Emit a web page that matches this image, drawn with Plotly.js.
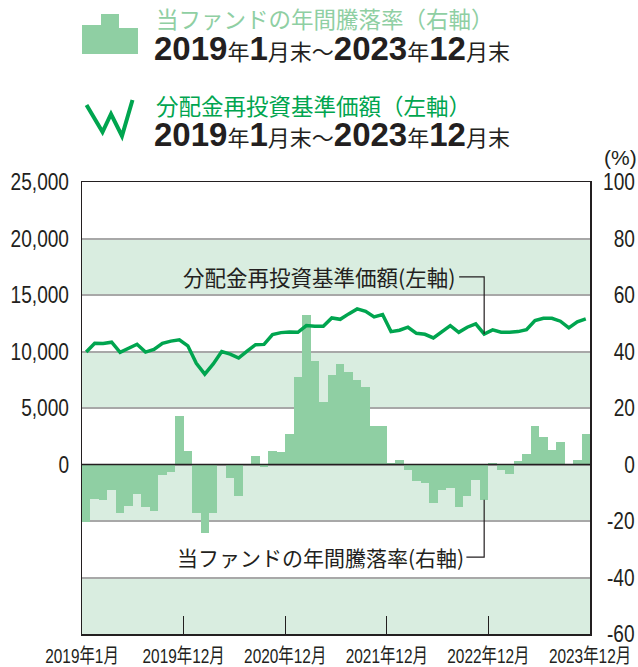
<!DOCTYPE html>
<html><head><meta charset="utf-8">
<script src="https://cdn.plot.ly/plotly-3.0.1.min.js"></script>
<style>html,body{margin:0;padding:0;background:#fff}</style>
</head><body><div id="chart" style="width:638px;height:667px"></div>
<script>
// ---- data ----
const years = [2019, 2020, 2021, 2022, 2023];
const months = [];
years.forEach(y => { for (let m = 1; m <= 12; m++) months.push(y + '-' + (m < 10 ? '0' : '') + m); });

// 年間騰落率 (%) – right axis
const annualReturn = [
  -20.4, -12.2, -12.5, -9.0, -17.3, -14.6, -10.4, -15.0, -16.3, -3.7,
  -2.6, 17.2, 4.8, -17.0, -24.3, -17.0, 0.0, -4.7, -11.1, 0.0,
  3.0, -1.0, 4.8, 4.5, 10.8, 31.0, 52.9, 36.6, 22.2, 31.6,
  35.5, 32.6, 30.0, 27.4, 13.7, 13.7, 0.6, 1.5, -2.1, -6.0,
  -6.6, -13.7, -9.0, -8.4, -15.2, -11.1, -5.4, -12.5, 0.6, -1.8,
  -3.5, 1.3, 3.8, 13.7, 9.6, 5.2, 8.0, 0.0, 1.7, 10.9
];
// 分配金再投資基準価額 (円) – left axis
const navReinvested = [
  9950, 10720, 10700, 10820, 9930, 10320, 10640, 9950, 10180, 10720,
  10920, 11030, 10500, 8950, 8000, 8900, 10000, 9770, 9420, 10040,
  10600, 10630, 11500, 11670, 11730, 11700, 12290, 12230, 12230, 12970,
  12850, 13330, 13770, 13560, 13060, 13270, 11760, 11880, 12150, 11610,
  11520, 11200, 11760, 12290, 11700, 12150, 12440, 11550, 11910, 11700,
  11700, 11760, 11940, 12740, 12940, 12940, 12680, 12090, 12620, 12880
];
const xTickMonths = ['2019-01', '2019-12', '2020-12', '2021-12', '2022-12', '2023-12'];
const xTickText = ['2019年1月', '2019年12月', '2020年12月', '2021年12月', '2022年12月', '2023年12月'];
const navTicks = [0, 5000, 10000, 15000, 20000, 25000];
const navTickText = ['0', '5,000', '10,000', '15,000', '20,000', '25,000'];
const rateTicks = [-60, -40, -20, 0, 20, 40, 60, 80, 100];
const rateTickText = ['\u2009-60', '\u2009-40', '\u2009-20', '\u2007\u20070', '\u200720', '\u200740', '\u200760', '\u200780', '100'];

const barLabel = '当ファンドの年間騰落率（右軸）';
const lineLabel = '分配金再投資基準価額（左軸）';
const barNote = '当ファンドの年間騰落率(右軸)';
const lineNote = '分配金再投資基準価額(左軸)';

// ---- styling ----
const DARK = '#231f20';
const BAR = '#8fcfa3';
const BAND = '#d9ede0';
const LINE = '#00a54f';
const GRID = '#a8a8a8';
const NUMFONT = 'Liberation Sans, Noto Sans CJK JP, sans-serif';
const CJK = 'Noto Sans CJK JP, sans-serif';

const idx = months.map((_, i) => i);
const xTickVals = xTickMonths.map((m, j) => months.indexOf(m) + (j === 0 ? -0.5 : 0.5));

// plot area in pixels (for paper conversions of header decorations)
const L = 82, R = 590, T = 182, B = 634;
const px = x => (x - L) / (R - L);
const py = y => (B - y) / (B - T);
const pathPaper = pts => 'M' + pts.map(p => px(p[0]).toFixed(4) + ',' + py(p[1]).toFixed(4)).join(' L');

const hl = 47; // leader target month index
const bands = [[80, 60], [40, 20], [0, -20], [-40, -60]];

const shapes = bands.map(b => ({
  type: 'rect', xref: 'paper', yref: 'y', x0: 0, x1: 1, y0: b[1], y1: b[0],
  fillcolor: BAND, line: {width: 0}, layer: 'below'
}));
shapes.push({type: 'line', xref: 'paper', yref: 'y', x0: 0, x1: 1, y0: 0, y1: 0,
  line: {color: DARK, width: 1.5}, layer: 'above'});
// leader lines
shapes.push({type: 'path', xref: 'x', yref: 'y2',
  path: `M ${hl - 2.95},16600 L ${hl},16600 L ${hl},${navReinvested[hl]}`,
  line: {color: DARK, width: 1.2}});
shapes.push({type: 'path', xref: 'x', yref: 'y',
  path: `M ${hl - 2.1},-32.8 L ${hl},-32.8 L ${hl},${annualReturn[hl]}`,
  line: {color: DARK, width: 1.2}});
// legend icons
shapes.push({type: 'path', xref: 'paper', yref: 'paper',
  path: pathPaper([[82, 54], [82, 25], [101, 25], [101, 14], [119, 14], [119, 28], [138, 28], [138, 54]]) + ' Z',
  fillcolor: BAR, line: {width: 0}});
shapes.push({type: 'path', xref: 'paper', yref: 'paper',
  path: pathPaper([[86.5, 105], [102.5, 132], [111, 114], [122, 136], [132.5, 100]]),
  line: {color: LINE, width: 4}});

const K = 'font-size:22px';
const dateLine = `<b>2019</b><span style="${K}">年</span><b>1</b><span style="${K}">月末～</span>` +
  `<b>2023</b><span style="${K}">年</span><b>12</b><span style="${K}">月末</span>`;

const annotations = [
  {xref: 'paper', yref: 'paper', x: px(154), y: py(18), xanchor: 'left', yanchor: 'middle', showarrow: false,
    text: barLabel, font: {family: CJK, size: 22.5, color: BAR}},
  {xref: 'paper', yref: 'paper', x: px(152), y: py(48), xanchor: 'left', yanchor: 'middle', showarrow: false,
    text: dateLine, font: {family: 'Liberation Sans, Noto Sans CJK JP, sans-serif', size: 33, color: DARK}},
  {xref: 'paper', yref: 'paper', x: px(154), y: py(105), xanchor: 'left', yanchor: 'middle', showarrow: false,
    text: lineLabel, font: {family: CJK, size: 22.5, color: LINE}},
  {xref: 'paper', yref: 'paper', x: px(152), y: py(134), xanchor: 'left', yanchor: 'middle', showarrow: false,
    text: dateLine, font: {family: 'Liberation Sans, Noto Sans CJK JP, sans-serif', size: 33, color: DARK}},
  {xref: 'paper', yref: 'paper', x: px(620), y: py(157), xanchor: 'center', yanchor: 'middle', showarrow: false,
    text: '(%)', font: {family: NUMFONT, size: 21, color: DARK}},
  {xref: 'x', yref: 'y2', x: hl - 3.05, y: 16600, xanchor: 'right', yanchor: 'middle', showarrow: false,
    text: lineNote, font: {family: CJK, size: 21.5, color: DARK}},
  {xref: 'x', yref: 'y', x: hl - 2.2, y: -32.8, xanchor: 'right', yanchor: 'middle', showarrow: false,
    text: barNote, font: {family: CJK, size: 21, color: DARK}}
];

const traces = [
  {type: 'bar', x: idx, y: annualReturn, yaxis: 'y', xaxis: 'x', width: 1,
    marker: {color: BAR, line: {width: 0}}, hoverinfo: 'skip'},
  {type: 'scatter', mode: 'lines', x: idx, y: navReinvested, yaxis: 'y2', xaxis: 'x',
    line: {color: LINE, width: 3.5, shape: 'linear'}, hoverinfo: 'skip'}
];

const layout = {
  width: 638, height: 667,
  margin: {l: L, r: 638 - R, t: T, b: 667 - B, pad: 0},
  paper_bgcolor: '#ffffff', plot_bgcolor: '#ffffff',
  showlegend: false, bargap: 0,
  font: {family: NUMFONT, color: DARK},
  xaxis: {range: [-0.5, months.length - 0.5], tickvals: xTickVals, ticktext: xTickText, tickangle: 0,
    ticks: 'inside', ticklen: 18, tickwidth: 1.3, tickcolor: DARK, ticklabeloverflow: 'allow',
    showgrid: false, zeroline: false, showline: true, mirror: true, linecolor: DARK, linewidth: 1.5,
    tickfont: {family: NUMFONT, size: 20, color: DARK}, ticklabelstandoff: 3, fixedrange: true},
  yaxis: {range: [-60, 100], side: 'right', tickvals: rateTicks, ticktext: rateTickText, ticks: '',
    showgrid: true, gridcolor: GRID, gridwidth: 2, zeroline: false, ticklabeloverflow: 'allow',
    showline: true, mirror: true, linecolor: DARK, linewidth: 1.5,
    tickfont: {family: NUMFONT, size: 23, color: DARK}, ticklabelstandoff: 7},
  yaxis2: {range: [-15000, 25000], side: 'left', overlaying: 'y', tickvals: navTicks, ticktext: navTickText,
    ticks: '', showgrid: false, zeroline: false, showline: false, ticklabeloverflow: 'allow',
    tickfont: {family: NUMFONT, size: 23, color: DARK}, ticklabelstandoff: 12},
  shapes: shapes,
  annotations: annotations
};

// condensed look for numeric tick labels (the reference uses a condensed typeface)
function squeeze(gd, sel, f) {
  gd.querySelectorAll(sel).forEach(t => {
    const w = t.getComputedTextLength();
    if (w > 0) {
      t.setAttribute('textLength', (w * f).toFixed(1));
      t.setAttribute('lengthAdjust', 'spacingAndGlyphs');
    }
  });
}

Plotly.newPlot('chart', traces, layout, {staticPlot: true, displayModeBar: false}).then(gd => {
  squeeze(gd, '.xtick text', 0.77);
  squeeze(gd, '.ytick text', 0.83);
  squeeze(gd, '.y2tick text', 0.83);
});
</script></body></html>
